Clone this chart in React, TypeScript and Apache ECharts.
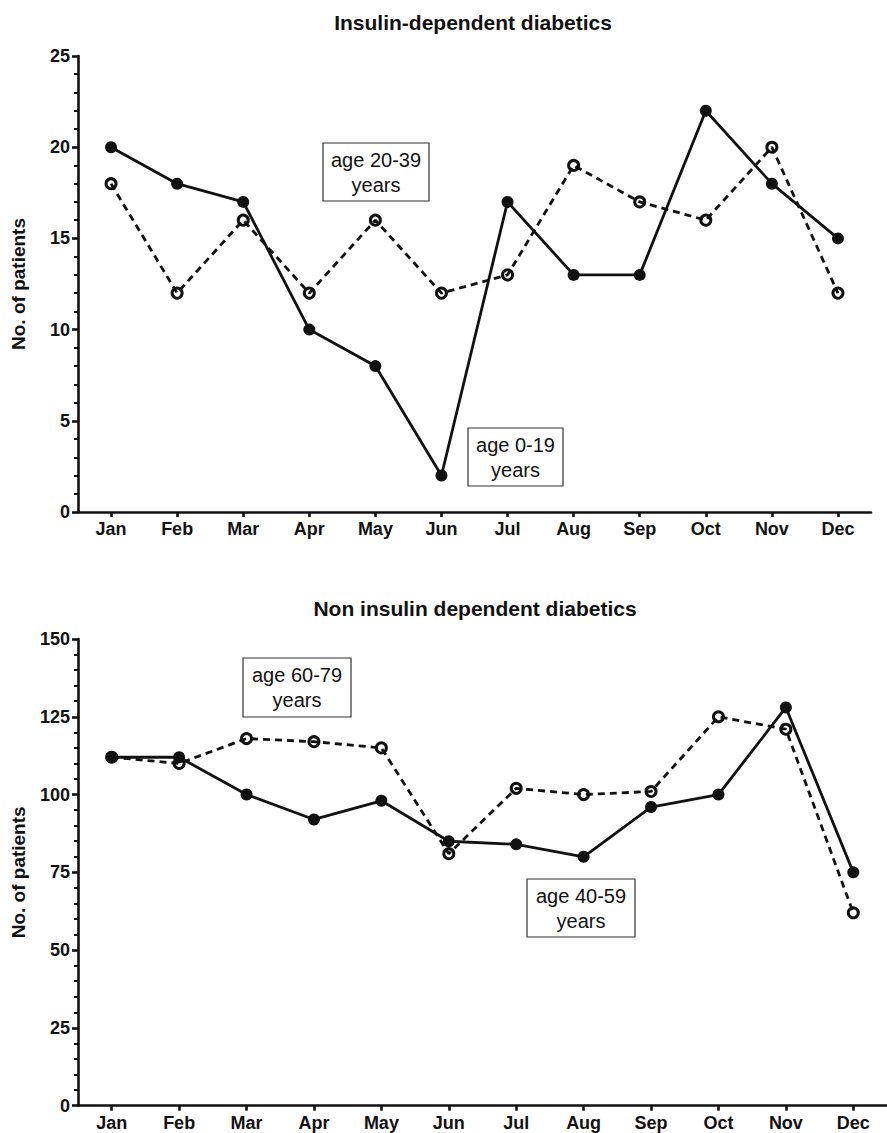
import React, { useEffect, useRef } from "react";
import * as echarts from "echarts";

const months = ["Jan", "Feb", "Mar", "Apr", "May", "Jun", "Jul", "Aug", "Sep", "Oct", "Nov", "Dec"];
// Insulin-dependent diabetics
const age0to19 = [20, 18, 17, 10, 8, 2, 17, 13, 13, 22, 18, 15];
const age20to39 = [18, 12, 16, 12, 16, 12, 13, 19, 17, 16, 20, 12];
// Non insulin dependent diabetics
const age40to59 = [112, 112, 100, 92, 98, 85, 84, 80, 96, 100, 128, 75];
const age60to79 = [112, 110, 118, 117, 115, 81, 102, 100, 101, 125, 121, 62];

const titles = ["Insulin-dependent diabetics", "Non insulin dependent diabetics"];
const yName = "No. of patients";

const FONT = "'Liberation Sans', Arial, Helvetica, sans-serif";
const INK = "#111";

function box(x: number, y: number, w: number, h: number, text: string) {
  return {
    type: "group",
    x,
    y,
    children: [
      { type: "rect", shape: { x: 0, y: 0, width: w, height: h }, style: { fill: "#fff", stroke: "#333", lineWidth: 1.2 }, z: 10 },
      {
        type: "text",
        x: w / 2,
        y: h / 2,
        z: 11,
        style: { text, fill: INK, font: `20px ${FONT}`, align: "center", verticalAlign: "middle", lineHeight: 25 },
      },
    ],
  };
}

export default function App() {
  const ref = useRef<HTMLDivElement>(null);
  useEffect(() => {
    document.body.style.margin = "0";
    const chart = echarts.init(ref.current!, undefined, { renderer: "svg" });
    const axisLine = { show: true, lineStyle: { color: INK, width: 2.6 } };
    const xAxisCommon = {
      type: "category",
      data: months,
      axisLine,
      axisTick: { show: true, alignWithLabel: true, length: 5, lineStyle: { color: INK, width: 2.6 } },
      axisLabel: { color: INK, fontFamily: FONT, fontWeight: "bold", fontSize: 18, margin: 8 },
      splitLine: { show: false },
    };
    const yAxisCommon = {
      type: "value",
      name: yName,
      nameLocation: "middle",
      nameGap: 50,
      nameTextStyle: { color: INK, fontFamily: FONT, fontWeight: "bold", fontSize: 19 },
      axisLine,
      axisTick: { show: true, length: 6, lineStyle: { color: INK, width: 2.6 } },
      minorTick: { show: true, splitNumber: 5, length: 4, lineStyle: { color: INK, width: 2 } },
      axisLabel: { color: INK, fontFamily: FONT, fontWeight: "bold", fontSize: 18, margin: 8 },
      splitLine: { show: false },
      minorSplitLine: { show: false },
    };
    const solid = (data: number[], idx: number) => ({
      type: "line",
      data,
      xAxisIndex: idx,
      yAxisIndex: idx,
      symbol: "circle",
      symbolSize: 12,
      z: 3,
      lineStyle: { color: INK, width: 2.8 },
      itemStyle: { color: INK },
    });
    const dashed = (data: number[], idx: number) => ({
      type: "line",
      data,
      xAxisIndex: idx,
      yAxisIndex: idx,
      symbol: "circle",
      symbolSize: 10,
      z: 2,
      lineStyle: { color: INK, width: 2.8, type: [7, 5] },
      itemStyle: { color: "rgba(0,0,0,0)", borderColor: INK, borderWidth: 3 },
    });
    chart.setOption({
      animation: false,
      backgroundColor: "#fff",
      title: [
        { text: titles[0], left: 468, top: 7, textAlign: "center", textStyle: { color: INK, fontFamily: FONT, fontWeight: "bold", fontSize: 21 } },
        { text: titles[1], left: 470, top: 593, textAlign: "center", textStyle: { color: INK, fontFamily: FONT, fontWeight: "bold", fontSize: 21 } },
      ],
      grid: [
        { left: 78, top: 56, width: 793, height: 456 },
        { left: 78, top: 639, width: 810.6, height: 466.7 },
      ],
      xAxis: [
        { ...xAxisCommon, gridIndex: 0 },
        { ...xAxisCommon, gridIndex: 1 },
      ],
      yAxis: [
        { ...yAxisCommon, gridIndex: 0, min: 0, max: 25, interval: 5 },
        { ...yAxisCommon, gridIndex: 1, min: 0, max: 150, interval: 25 },
      ],
      series: [
        dashed(age20to39, 0),
        solid(age0to19, 0),
        dashed(age60to79, 1),
        solid(age40to59, 1),
      ],
      graphic: [
        box(323, 143, 106, 58, "age 20-39\nyears"),
        box(468, 428, 95, 58, "age 0-19\nyears"),
        box(243, 658, 108, 59, "age 60-79\nyears"),
        box(527, 879, 108, 58, "age 40-59\nyears"),
      ],
    });
    return () => chart.dispose();
  }, []);
  return <div ref={ref} style={{ width: 887, height: 1133 }} />;
}
